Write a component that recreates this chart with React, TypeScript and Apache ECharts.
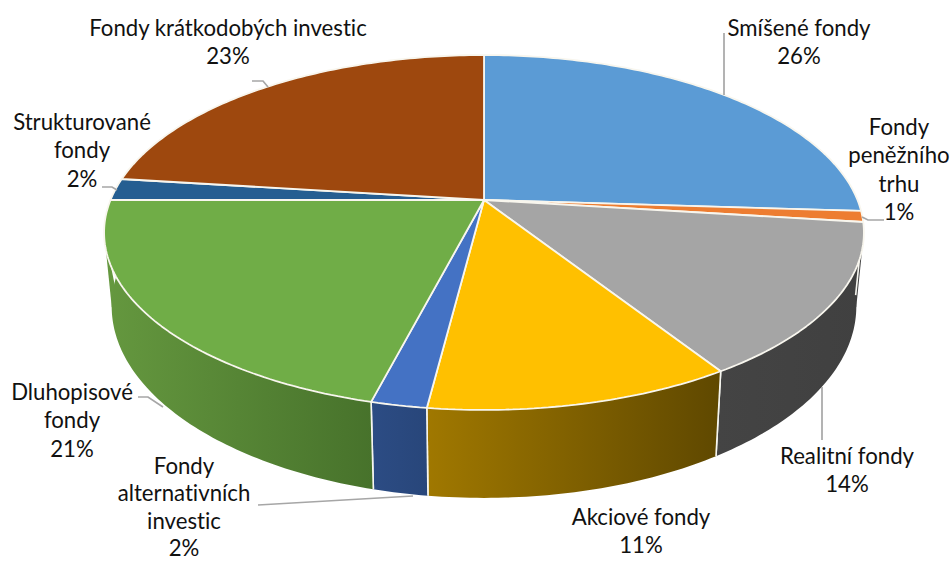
import React, { useEffect, useRef } from "react";
import * as echarts from "echarts";

// Share of assets per fund type, clockwise from twelve o'clock
const categories = [
  "Smíšené fondy",
  "Fondy\npeněžního\ntrhu",
  "Realitní fondy",
  "Akciové fondy",
  "Fondy\nalternativních\ninvestic",
  "Dluhopisové\nfondy",
  "Strukturované\nfondy",
  "Fondy krátkodobých investic",
];
const shares = [26, 1, 14, 11, 2, 21, 2, 23];
const topColors = ["#5B9BD5", "#ED7D31", "#A5A5A5", "#FFC000", "#4472C4", "#70AD47", "#255E91", "#9E480E"];
const wallColors = [
  ["#3F6F9B", "#3F6F9B"],
  ["#A85820", "#A85820"],
  ["#444444", "#404040"],
  ["#A07800", "#5F4800"],
  ["#2C4C84", "#28467A"],
  ["#65983F", "#47722B"],
  ["#1A4468", "#1A4468"],
  ["#6F330A", "#6F330A"],
];

// First-line centre and line spacing of each label
const labelSpots = [
  [799, 27, 28.5],
  [899, 126, 28.5],
  [847, 455, 28.5],
  [641, 516, 28.5],
  [184, 465, 27.5],
  [72, 391, 28.5],
  [82, 121, 28.5],
  [228, 27, 28.5],
];
const leaderLines = [
  [[724, 33], [724, 95]],
  [[862, 217], [868, 220], [884, 220]],
  [[822, 387], [822, 440]],
  [[258, 505], [413, 496]],
  [[138, 397], [148, 397], [163, 407]],
  [[102, 187], [112, 187], [117, 190]],
  [[252, 81], [263, 81], [268, 87]],
];

// Perspective disc: a unit circle seen from above, nearer edge drawn larger
const CX = 484;
const APEX_Y = 200;
const RX = 373.5;
const RY = 171.5;
const PERSPECTIVE = 0.183;
const BASE_SCALE_X = 0.98;
const BASE_SCALE_Y = 1.079;
const BASE_APEX_Y = 271.4;
// Percent positions where the rim reaches its widest x
const RIGHT_EXTREME = (Math.acos(-PERSPECTIVE) / (2 * Math.PI)) * 100;
const LEFT_EXTREME = 100 - RIGHT_EXTREME;

function topRim(percent: number): number[] {
  const a = (percent / 100) * 2 * Math.PI;
  const v = -Math.cos(a);
  const d = 1 - PERSPECTIVE * v;
  return [CX + (RX * Math.sin(a)) / d, APEX_Y + (RY * v) / d];
}

function baseRim(percent: number): number[] {
  const a = (percent / 100) * 2 * Math.PI;
  const v = -Math.cos(a);
  const d = 1 - PERSPECTIVE * v;
  return [CX + (RX * BASE_SCALE_X * Math.sin(a)) / d, BASE_APEX_Y + (RY * BASE_SCALE_Y * v) / d];
}

function samples(from: number, to: number): number[] {
  const steps = Math.max(2, Math.ceil((to - from) * 4));
  return Array.from({ length: steps + 1 }, (_, i) => from + ((to - from) * i) / steps);
}

const startOf = (index: number) => shares.slice(0, index).reduce((s, v) => s + v, 0);

function renderWall(params: any, api: any) {
  const from = startOf(params.dataIndex);
  const to = from + api.value(0);
  const mid = (((from + to) / 2) * 2 * Math.PI) / 100;
  if (-Math.cos(mid) <= 0) return { type: "group", children: [] };

  const ts = samples(from, to);
  const [c0, c1] = wallColors[params.dataIndex];
  const children: any[] = [];

  // Wedges close the gap between the rims where the disc is widest
  if (from < RIGHT_EXTREME && RIGHT_EXTREME < to) {
    children.push({
      type: "polygon",
      shape: { points: [topRim(RIGHT_EXTREME), baseRim(RIGHT_EXTREME), baseRim(RIGHT_EXTREME + 5)] },
      style: { fill: c1 },
    });
  }
  if (from < LEFT_EXTREME && LEFT_EXTREME < to) {
    children.push({
      type: "polygon",
      shape: { points: [topRim(LEFT_EXTREME), baseRim(LEFT_EXTREME), baseRim(LEFT_EXTREME - 5)] },
      style: { fill: c0 },
    });
  }

  children.push({
    type: "polygon",
    shape: { points: [...ts.map(topRim), ...[...ts].reverse().map(baseRim)] },
    style: {
      fill: new echarts.graphic.LinearGradient(0, 0, 1, 0, [
        { offset: 0, color: c0 },
        { offset: 1, color: c1 },
      ]),
    },
  });

  for (const t of [from, to]) {
    children.push({
      type: "line",
      shape: { x1: topRim(t)[0], y1: topRim(t)[1], x2: baseRim(t)[0], y2: baseRim(t)[1] },
      style: { stroke: "#F6F6F0", lineWidth: 1.6 },
    });
  }
  return { type: "group", children };
}

function renderTop(params: any, api: any) {
  const from = startOf(params.dataIndex);
  const to = from + api.value(0);
  return {
    type: "polygon",
    shape: { points: [[CX, APEX_Y], ...samples(from, to).map(topRim)] },
    style: {
      fill: topColors[params.dataIndex],
      stroke: "#F8F6EE",
      lineWidth: 1.8,
      lineJoin: "bevel",
    },
  };
}

export default function App() {
  const ref = useRef<HTMLDivElement>(null);

  useEffect(() => {
    const chart = echarts.init(ref.current!, null, { renderer: "svg" });
    const values = shares.map((v) => [v]);
    chart.setOption({
      animation: false,
      backgroundColor: "#FFFFFF",
      series: [
        { type: "custom", coordinateSystem: "none", renderItem: renderWall, data: values, silent: true, z: 1 },
        { type: "custom", coordinateSystem: "none", renderItem: renderTop, data: values, silent: true, z: 2 },
      ],
      graphic: [
        ...leaderLines.map((points) => ({
          type: "polyline",
          z: 5,
          shape: { points },
          style: { stroke: "#A6A6A6", lineWidth: 1.7, fill: "none" },
        })),
        ...categories.map((name, i) => ({
          type: "text",
          z: 6,
          x: labelSpots[i][0],
          y: labelSpots[i][1] - labelSpots[i][2] / 2,
          style: {
            text: `${name}\n${shares[i]}%`,
            fontFamily: "Lato",
            fontSize: 22.2,
            lineHeight: labelSpots[i][2],
            align: "center",
            verticalAlign: "top",
            fill: "#111111",
          },
        })),
      ],
    });
    return () => chart.dispose();
  }, []);

  return (
    <div
      ref={ref}
      style={{ position: "absolute", left: 0, top: 0, width: 952, height: 563, fontVariantLigatures: "none" }}
    />
  );
}
